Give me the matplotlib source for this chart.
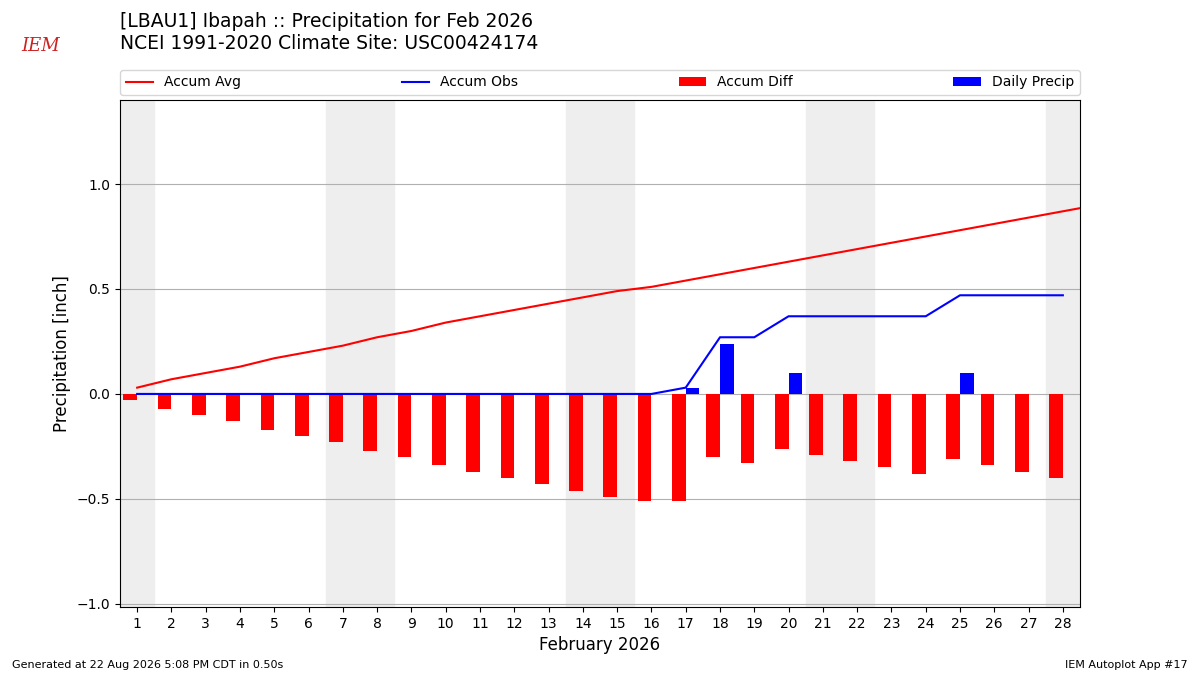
import matplotlib
matplotlib.use("Agg")
import matplotlib.pyplot as plt
import numpy as np

days = np.arange(1, 29)
accum_avg = [0.03, 0.07, 0.10, 0.13, 0.17, 0.20, 0.23, 0.27, 0.30, 0.34, 0.37, 0.40, 0.43, 0.46,
             0.49, 0.51, 0.54, 0.57, 0.60, 0.63, 0.66, 0.69, 0.72, 0.75, 0.78, 0.81, 0.84, 0.87, 0.90]
accum_obs = [0, 0, 0, 0, 0, 0, 0, 0, 0, 0, 0, 0, 0, 0, 0, 0, 0.03, 0.27, 0.27, 0.37, 0.37, 0.37,
             0.37, 0.37, 0.47, 0.47, 0.47, 0.47]
accum_diff = [-0.03, -0.07, -0.10, -0.13, -0.17, -0.20, -0.23, -0.27, -0.30, -0.34, -0.37, -0.40,
              -0.43, -0.46, -0.49, -0.51, -0.51, -0.30, -0.33, -0.26, -0.29, -0.32, -0.35, -0.38,
              -0.31, -0.34, -0.37, -0.40]
daily_precip = [0, 0, 0, 0, 0, 0, 0, 0, 0, 0, 0, 0, 0, 0, 0, 0, 0.03, 0.24, 0, 0.10, 0, 0, 0, 0,
                0.10, 0, 0, 0]
weekend_days = [1, 7, 8, 14, 15, 21, 22, 28]

fig = plt.figure(figsize=(12, 6.75), dpi=100)
ax = fig.add_axes([0.1, 0.1007, 0.8, 0.7511])

for d in weekend_days:
    ax.axvspan(d - 0.5, d + 0.5, color="#eeeeee", zorder=0)

ax.plot(np.arange(1, len(accum_avg) + 1), accum_avg, color="r", label="Accum Avg", zorder=3)
ax.plot(days, accum_obs, color="b", label="Accum Obs", zorder=3)
ax.bar(days, accum_diff, width=-0.4, align="edge", color="r", label="Accum Diff", zorder=2)
ax.bar(days, daily_precip, width=0.4, align="edge", color="b", label="Daily Precip", zorder=2)

ax.set_xlim(0.5, 28.5)
ax.set_ylim(-1.015, 1.4)
ax.set_xticks(days)
ax.set_yticks([-1.0, -0.5, 0.0, 0.5, 1.0])
ax.grid(axis="y", zorder=1)
ax.set_axisbelow(True)
ax.set_xlabel("February 2026", fontsize=12)
ax.set_ylabel("Precipitation [inch]", fontsize=12)

ax.legend(loc="lower left", bbox_to_anchor=(0, 1.01, 1, 0.05), ncol=4, mode="expand",
          borderaxespad=0, fontsize=10)

fig.text(0.1, 0.982, "[LBAU1] Ibapah :: Precipitation for Feb 2026\nNCEI 1991-2020 Climate Site: USC00424174",
         fontsize=13.5, va="top", ha="left")
fig.text(0.018, 0.925, "IEM", color="#cc2222", fontsize=13, style="italic", family="DejaVu Serif")
fig.text(0.01, 0.01, "Generated at 22 Aug 2026 5:08 PM CDT in 0.50s", fontsize=8)
fig.text(0.99, 0.01, "IEM Autoplot App #17", fontsize=8, ha="right")

fig.savefig("out.png")
